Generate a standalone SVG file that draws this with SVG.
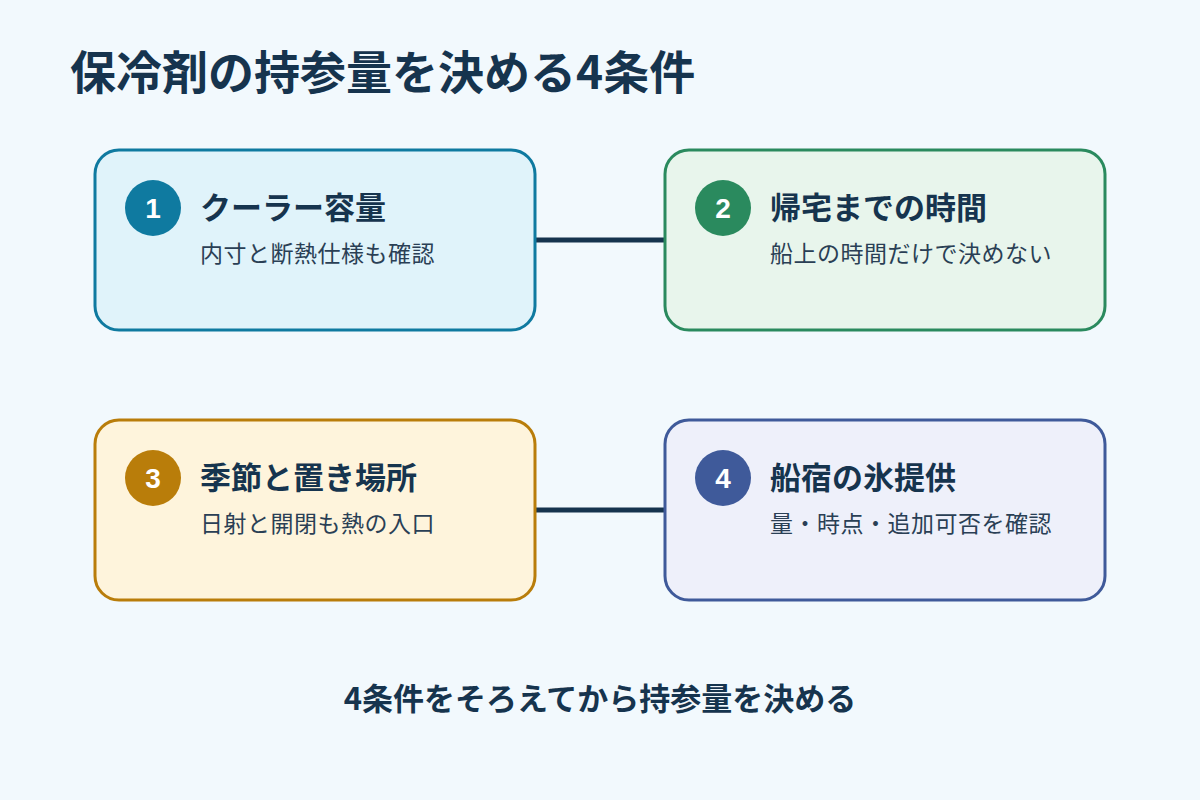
<svg xmlns="http://www.w3.org/2000/svg" width="1200" height="800" viewBox="0 0 1200 800">
<style>
text{font-family:"Noto Sans CJK JP","Noto Sans",sans-serif;fill:#16344e}
.h{font-size:46px;font-weight:700}
.t{font-size:31px;font-weight:700}
.s{font-size:23px;font-weight:400;fill:#2a3f55;letter-spacing:0.5px}
.n{font-family:"Liberation Sans",Arial,sans-serif;font-size:28px;font-weight:700;fill:#fff;text-anchor:middle}
.f{font-size:31px;font-weight:700;text-anchor:middle}
.box{stroke-width:3}
.conn{stroke:#16344e;stroke-width:5;fill:none}
</style>
<rect width="1200" height="800" fill="#f2f9fd"/>
<text class="h" x="70" y="89">保冷剤の持参量を決める4条件</text>
<g id="connectors">
<line class="conn" x1="535" y1="240" x2="665" y2="240"/>
<line class="conn" x1="535" y1="510" x2="665" y2="510"/>
</g>
<g id="node1">
<rect class="box" x="95" y="150" width="440" height="180" rx="24" fill="#e0f3fa" stroke="#0f7aa0"/>
<circle cx="153" cy="208" r="28" fill="#0f7aa0"/>
<text class="n" x="153" y="218">1</text>
<text class="t" x="200" y="219">クーラー容量</text>
<text class="s" x="200" y="262">内寸と断熱仕様も確認</text>
</g>
<g id="node2">
<rect class="box" x="665" y="150" width="440" height="180" rx="24" fill="#e8f5ec" stroke="#2a8a5e"/>
<circle cx="723" cy="208" r="28" fill="#2a8a5e"/>
<text class="n" x="723" y="218">2</text>
<text class="t" x="770" y="219">帰宅までの時間</text>
<text class="s" x="770" y="262">船上の時間だけで決めない</text>
</g>
<g id="node3">
<rect class="box" x="95" y="420" width="440" height="180" rx="24" fill="#fef4dc" stroke="#b97d0a"/>
<circle cx="153" cy="478" r="28" fill="#b97d0a"/>
<text class="n" x="153" y="488">3</text>
<text class="t" x="200" y="489">季節と置き場所</text>
<text class="s" x="200" y="532">日射と開閉も熱の入口</text>
</g>
<g id="node4">
<rect class="box" x="665" y="420" width="440" height="180" rx="24" fill="#eef0fa" stroke="#3f5a9a"/>
<circle cx="723" cy="478" r="28" fill="#3f5a9a"/>
<text class="n" x="723" y="488">4</text>
<text class="t" x="770" y="489">船宿の氷提供</text>
<text class="s" x="770" y="532">量・時点・追加可否を確認</text>
</g>
<text class="f" x="600" y="710">4条件をそろえてから持参量を決める</text>
</svg>
